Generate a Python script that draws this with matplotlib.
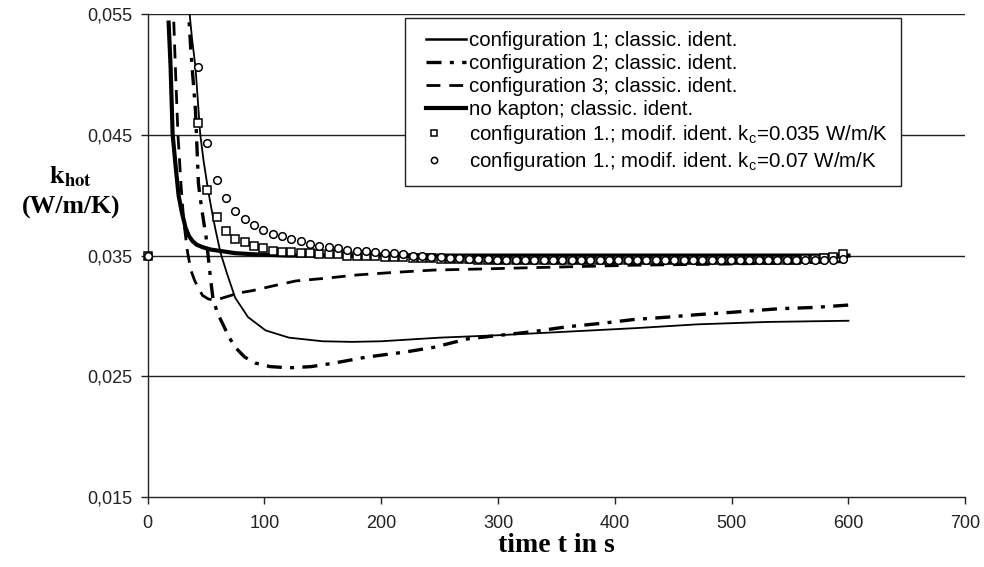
import matplotlib
matplotlib.use("Agg")
import matplotlib.pyplot as plt
from matplotlib.ticker import FuncFormatter
from matplotlib.lines import Line2D
from matplotlib.legend_handler import HandlerLine2D

# ---- data ----
t_conf1 = [34, 36, 38, 41, 45, 48, 52, 55, 58, 62.5, 68, 75, 86, 101, 121, 150, 175, 200,
           250, 300, 360, 420, 470, 530, 600]
k_conf1 = [0.0570, 0.0550, 0.0530, 0.0506, 0.0451, 0.0428, 0.0403, 0.0387, 0.0372, 0.0352,
           0.0335, 0.0315, 0.0299, 0.0288, 0.0282, 0.0279, 0.02785, 0.0279,
           0.0282, 0.0284, 0.0287, 0.0290, 0.0293, 0.0295, 0.0296]

t_conf2 = [34, 37, 41, 43.5, 45, 48, 50, 52, 54, 56, 60, 64, 70, 75, 83, 92, 105, 121, 140,
           160, 188, 220, 245, 274, 302, 330, 359, 390, 416, 445, 470, 500, 541, 570, 600]
k_conf2 = [0.0570, 0.0520, 0.0470, 0.0410, 0.0398, 0.0378, 0.0366, 0.0348, 0.0330, 0.0314,
           0.0302, 0.0294, 0.0282, 0.0274, 0.0266, 0.0261, 0.0258, 0.0257, 0.0258,
           0.0261, 0.0266, 0.0270, 0.0274, 0.0281, 0.0284, 0.0287, 0.0291, 0.0294,
           0.0297, 0.0299, 0.0301, 0.0303, 0.0306, 0.0307, 0.0309]

t_conf3 = [21, 22, 24, 26, 28.5, 31, 34, 37, 40, 43, 47, 52, 58, 68, 78, 90, 108, 127, 150,
           180, 210, 245, 290, 330, 416, 500, 560, 600]
k_conf3 = [0.0580, 0.0555, 0.0500, 0.0450, 0.0410, 0.0378, 0.0354, 0.0338, 0.0330, 0.0324,
           0.0317, 0.0314, 0.0313, 0.0316, 0.0319, 0.0321, 0.0325, 0.0329, 0.0331,
           0.0334, 0.0336, 0.0338, 0.0339, 0.0340, 0.0342, 0.0343, 0.0344, 0.0345]

t_nokap = [18, 19.7, 21.4, 24, 26.5, 29.5, 32.5, 35.5, 38.5, 42, 47, 54, 61, 75, 92, 120,
           160, 200, 300, 400, 500, 600]
k_nokap = [0.0543, 0.0506, 0.0451, 0.0424, 0.0400, 0.0385, 0.0373, 0.0366, 0.0362, 0.0359,
           0.0357, 0.0355, 0.0354, 0.0352, 0.0351, 0.0350, 0.0350, 0.0350, 0.0350,
           0.0350, 0.0350, 0.0350]

t_mod = [0, 43, 51, 59, 67, 75, 83, 91, 99, 107, 115, 123, 131, 139, 147, 155, 163, 171,
         179, 187, 195, 203, 211, 219, 227, 235, 243, 251, 259, 267, 275, 283, 291, 299,
         307, 315, 323, 331, 339, 347, 355, 363, 371, 379, 387, 395, 403, 411, 419, 427,
         435, 443, 451, 459, 467, 475, 483, 491, 499, 507, 515, 523, 531, 539, 547, 555,
         563, 571, 579, 587, 595]
k_mod_035 = [0.0350, 0.0460, 0.0404, 0.0382, 0.0370, 0.0364, 0.0361, 0.0358, 0.0356, 0.0354,
             0.0353, 0.0353, 0.0352, 0.0352, 0.0351, 0.0351, 0.0351, 0.0350, 0.0350,
             0.0350, 0.0350, 0.0349, 0.0349, 0.0349, 0.0348, 0.0348, 0.0348, 0.0347,
             0.0347, 0.0347, 0.0347, 0.0346, 0.0346, 0.0346, 0.0346, 0.0346, 0.0346,
             0.0346, 0.0346, 0.0346, 0.0346, 0.0346, 0.0346, 0.0346, 0.0346, 0.0346,
             0.0346, 0.0346, 0.0346, 0.0346, 0.0346, 0.0346, 0.0346, 0.0346, 0.0346,
             0.0346, 0.0346, 0.0346, 0.0346, 0.0346, 0.0346, 0.0346, 0.0346, 0.0346,
             0.0346, 0.0346, 0.0347, 0.0347, 0.0348, 0.0349, 0.0351]
k_mod_07 = [0.0350, 0.0506, 0.0443, 0.0413, 0.0398, 0.0387, 0.0380, 0.0375, 0.0371, 0.0368,
            0.0366, 0.0364, 0.0362, 0.0360, 0.0358, 0.0357, 0.0356, 0.0355, 0.0354,
            0.0354, 0.0353, 0.0352, 0.0352, 0.0351, 0.0350, 0.0350, 0.0349, 0.0349,
            0.0348, 0.0348, 0.0347, 0.0347, 0.0347, 0.0346, 0.0346, 0.0346, 0.0346,
            0.0346, 0.0346, 0.0346, 0.0346, 0.0346, 0.0346, 0.0346, 0.0346, 0.0346,
            0.0346, 0.0346, 0.0346, 0.0346, 0.0346, 0.0346, 0.0346, 0.0346, 0.0346,
            0.0346, 0.0346, 0.0346, 0.0346, 0.0346, 0.0346, 0.0346, 0.0346, 0.0346,
            0.0346, 0.0346, 0.0346, 0.0346, 0.0346, 0.0346, 0.0347]

labels = ["configuration 1; classic. ident.",
          "configuration 2; classic. ident.",
          "configuration 3; classic. ident.",
          "no kapton; classic. ident.",
          r"configuration 1.; modif. ident. k$_\mathrm{c}$=0.035 W/m/K",
          r"configuration 1.; modif. ident. k$_\mathrm{c}$=0.07 W/m/K"]

x_ticks = [0, 100, 200, 300, 400, 500, 600, 700]
y_ticks = [0.015, 0.025, 0.035, 0.045, 0.055]

# ---- figure ----
plt.rcParams['font.family'] = ['Liberation Sans', 'DejaVu Sans']
plt.rcParams['mathtext.fontset'] = 'custom'
plt.rcParams['mathtext.rm'] = 'Liberation Sans'
plt.rcParams['mathtext.it'] = 'Liberation Sans:italic'
plt.rcParams['mathtext.bf'] = 'Liberation Sans:bold'

fig = plt.figure(figsize=(9.84, 5.67), dpi=100)
ax = fig.add_axes([0.150, 0.1235, 0.831, 0.8515])

ax.set_xlim(0, 700)
ax.set_ylim(0.015, 0.055)

for y in y_ticks[1:]:
    ax.axhline(y, color='#222222', lw=1.0, zorder=1)

ax.plot(t_conf1, k_conf1, color='black', lw=1.3, zorder=3)
ax.plot(t_conf2, k_conf2, color='black', lw=2.4, dashes=(4.5, 2.5, 1.2, 2.5), zorder=3)
ax.plot(t_conf3, k_conf3, color='black', lw=2.0, dashes=(5, 3.2), zorder=3)
ax.plot(t_nokap, k_nokap, color='black', lw=3.0, zorder=3)
ax.plot(t_mod, k_mod_035, ls='none', marker='s', ms=5.5, mfc='white', mec='black',
        mew=1.1, zorder=4, clip_on=False)
ax.plot(t_mod, k_mod_07, ls='none', marker='o', ms=5.5, mfc='white', mec='black',
        mew=1.1, zorder=4, clip_on=False)

ax.set_xticks(x_ticks)
ax.set_yticks(y_ticks)
ax.yaxis.set_major_formatter(FuncFormatter(lambda v, p: f"{v:.3f}".replace('.', ',')))
ax.tick_params(axis='both', direction='out', length=5, width=1, labelsize=13,
               color='#222222', labelcolor='#222222')
ax.tick_params(axis='y', pad=6)
ax.tick_params(axis='x', pad=8)

for s in ['top', 'right']:
    ax.spines[s].set_visible(False)
for s in ['left', 'bottom']:
    ax.spines[s].set_color('#222222')
    ax.spines[s].set_linewidth(1.0)

ax.set_xlabel("time t in s", fontfamily='Liberation Serif', fontweight='bold',
              fontsize=20, labelpad=1)
fig.text(0.072, 0.688, r"$\mathbf{k}_{\mathbf{hot}}$", math_fontfamily='stix',
         fontsize=19, ha='center', va='center')
fig.text(0.072, 0.634, "(W/m/K)", fontfamily='Liberation Serif',
         fontweight='bold', fontsize=18.5, ha='center', va='center')


class LeftMarkerHandler(HandlerLine2D):
    def create_artists(self, legend, orig_handle, xdescent, ydescent, width, height,
                       fontsize, trans):
        return super().create_artists(legend, orig_handle, xdescent, ydescent,
                                      width * 0.4, height, fontsize, trans)


handles = [Line2D([], [], color='black', lw=1.8),
           Line2D([], [], color='black', lw=2.4, dashes=(4.5, 2.5, 1.2, 2.5)),
           Line2D([], [], color='black', lw=2.0, dashes=(5, 3.2)),
           Line2D([], [], color='black', lw=3.0),
           Line2D([], [], ls='none', marker='s', ms=4.5, mfc='white', mec='black', mew=1.1),
           Line2D([], [], ls='none', marker='o', ms=4.5, mfc='white', mec='black', mew=1.1)]
hmap = {handles[i]: HandlerLine2D(xpad=0.4) for i in range(4)}
hmap.update({handles[i]: LeftMarkerHandler(xpad=0.4) for i in range(4, 6)})
leg = ax.legend(handles, labels, loc='upper left', bbox_to_anchor=(0.3146, 0.9917),
                fontsize=14.8, frameon=True, fancybox=False, edgecolor='#222222',
                framealpha=1, handlelength=2.36, handletextpad=0.15, labelspacing=0.2,
                borderpad=0.62, borderaxespad=0, handler_map=hmap)
leg.get_frame().set_linewidth(1.0)
leg.set_zorder(5)

fig.savefig("out.png", dpi=100)
